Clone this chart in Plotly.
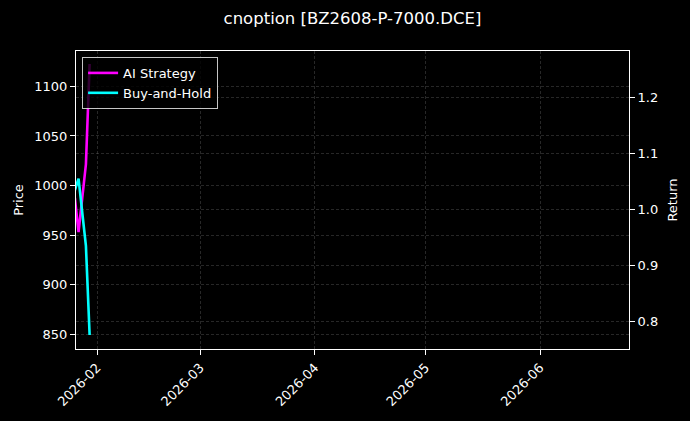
import plotly.graph_objects as go

# data
dates = ["2026-01-26", "2026-01-27", "2026-01-29", "2026-01-30"]
ai_strategy = [1.02, 0.959, 1.080, 1.259]  # return
buy_and_hold = [995, 1007, 939, 849]  # price

month_ticks = ["2026-02-01", "2026-03-01", "2026-04-01", "2026-05-01", "2026-06-01"]
month_labels = ["2026-02", "2026-03", "2026-04", "2026-05", "2026-06"]
price_ticks = [850, 900, 950, 1000, 1050, 1100]
return_ticks = [0.8, 0.9, 1.0, 1.1, 1.2]

FONT = "DejaVu Sans"
GRID = "rgba(128,128,128,0.3)"


def axis_style():
    return dict(
        showline=True,
        linecolor="white",
        linewidth=1,
        ticks="outside",
        ticklen=5,
        tickcolor="white",
        tickfont=dict(color="white", size=13, family=FONT),
        showgrid=True,
        gridcolor=GRID,
        gridwidth=0.5,
        griddash="3px,2px",
        zeroline=False,
    )


fig = go.Figure()
fig.add_trace(
    go.Scatter(x=dates, y=ai_strategy, name="AI Strategy", mode="lines",
               line=dict(color="#ff00ff", width=2.6), yaxis="y")
)
fig.add_trace(
    go.Scatter(x=dates, y=buy_and_hold, name="Buy-and-Hold", mode="lines",
               line=dict(color="#00ffff", width=2.6), yaxis="y2")
)

fig.update_layout(
    width=690,
    height=421,
    paper_bgcolor="black",
    plot_bgcolor="black",
    margin=dict(l=76, r=61, t=51, b=70),
    font=dict(family=FONT, color="white", size=13),
    title=dict(text="cnoption [BZ2608-P-7000.DCE]", x=0.5, xref="paper",
               y=1 - 18 / 421, yanchor="middle",
               font=dict(size=16.5, color="white", family=FONT)),
    xaxis=dict(
        **axis_style(),
        mirror=True,
        type="date",
        range=["2026-01-26 07:30", "2026-06-25 02:00"],
        tickvals=month_ticks,
        ticktext=month_labels,
        tickangle=-45,
    ),
    yaxis=dict(
        **axis_style(),
        side="right",
        range=[0.7503, 1.2822],
        tickvals=return_ticks,
        tickformat=".1f",
        title=dict(text="Return", standoff=10, font=dict(size=13, color="white")),
    ),
    yaxis2=dict(
        **axis_style(),
        side="left",
        overlaying="y",
        range=[834.9, 1135.8],
        tickvals=price_ticks,
        title=dict(text="Price", standoff=7, font=dict(size=13, color="white")),
    ),
    legend=dict(
        x=0.011, y=0.98, xanchor="left", yanchor="top",
        bgcolor="rgba(0,0,0,0.8)",
        bordercolor="rgba(220,220,220,0.9)",
        borderwidth=1,
        font=dict(size=13, color="white", family=FONT),
        itemwidth=30,
    ),
)

# drop the default page margin so the figure sits at the window corner
fig.write_html(
    "out.html",
    config={"displayModeBar": False},
    post_script="document.body.style.margin='0';document.body.style.background='black';",
)
